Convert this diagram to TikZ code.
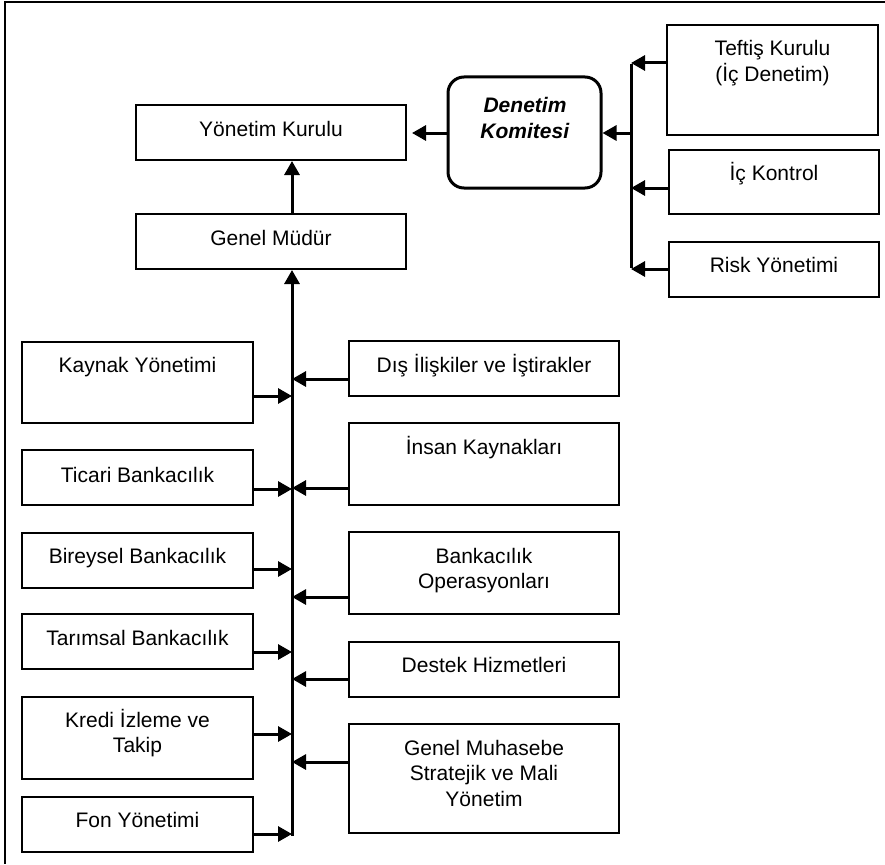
\documentclass[tikz,border=0pt]{standalone}
\usepackage{fontspec}
\setmainfont{Liberation Sans}
\usetikzlibrary{arrows.meta}
\newcommand{\mlines}[1]{\vtop{\baselineskip=25.5pt\halign{\hfil##\hfil\cr#1\crcr}}}
\begin{document}
\begin{tikzpicture}[x=1pt,y=-1pt,
  box/.style={draw,line width=2pt,inner sep=0pt,minimum width=#1},
  box/.default=270pt,
  txt/.style={anchor=base,inner sep=0pt,font=\fontsize{21}{25.5}\selectfont},
  arr/.style={line width=3pt,-{Triangle[length=14pt,width=15pt]}},
  ln/.style={line width=3pt}]
\useasboundingbox (0,0) rectangle (885,864);
% outer frame (only top and left edges visible)
\coordinate (fa) at (5,2);
\coordinate (fb) at (885,2);
\coordinate (fc) at (5,864);
\draw[line width=2.5pt] (fb) -- (fa) -- (fc);

% top part
\node[box,minimum height=55pt] (yk) at (271,132.5) {};
\node[box,minimum height=55pt] (gm) at (271,241.5) {};
\node[draw,line width=3pt,rounded corners=16pt,inner sep=0pt,minimum width=153pt,minimum height=111pt] (dk) at (524.5,132.5) {};
\node[box=211pt,minimum height=110pt] (tk) at (772.5,80) {};
\node[box=210pt,minimum height=64pt] (ic) at (774,182) {};
\node[box=210pt,minimum height=55pt] (ry) at (774,269.5) {};

\node[txt] (ykT) at (271,136) {Yönetim Kurulu};
\node[txt] (gmT) at (271,245.5) {Genel Müdür};
\node[txt] (dkT) at (525,113) {\mlines{\textbf{\textit{Denetim}}\cr\textbf{\textit{Komitesi}}}};
\node[txt] (tkT) at (772.5,56) {\mlines{Teftiş Kurulu\cr(İç Denetim)}};
\node[txt] (icT) at (774,180) {İç Kontrol};
\node[txt] (ryT) at (774,272) {Risk Yönetimi};

% left column
\node[box=231pt,minimum height=81pt] (kay) at (137.5,382.5) {};
\node[box=231pt,minimum height=55pt] (tic) at (137.5,477.5) {};
\node[box=231pt,minimum height=55pt] (bir) at (137.5,560) {};
\node[box=231pt,minimum height=55pt] (tar) at (137.5,641.5) {};
\node[box=231pt,minimum height=82pt] (kre) at (137.5,738) {};
\node[box=231pt,minimum height=55pt] (fon) at (137.5,824.5) {};

\node[txt] (kayT) at (137.5,372) {Kaynak Yönetimi};
\node[txt] (ticT) at (137.5,482) {Ticari Bankacılık};
\node[txt] (birT) at (137.5,563) {Bireysel Bankacılık};
\node[txt] (tarT) at (137.5,645) {Tarımsal Bankacılık};
\node[txt] (kreT) at (137.5,727) {\mlines{Kredi İzleme ve\cr Takip}};
\node[txt] (fonT) at (137.5,827) {Fon Yönetimi};

% right column
\node[box,minimum height=55pt] (dis) at (484,368.5) {};
\node[box,minimum height=82pt] (ins) at (484,464) {};
\node[box,minimum height=82pt] (ban) at (484,573) {};
\node[box,minimum height=55pt] (des) at (484,669.5) {};
\node[box,minimum height=109pt] (gmu) at (484,778.5) {};

\node[txt] (disT) at (484,372) {Dış İlişkiler ve İştirakler};
\node[txt] (insT) at (484,454) {İnsan Kaynakları};
\node[txt] (banT) at (484,563) {\mlines{Bankacılık\cr Operasyonları}};
\node[txt] (desT) at (484,672) {Destek Hizmetleri};
\node[txt] (gmuT) at (484,755) {\mlines{Genel Muhasebe\cr Stratejik ve Mali\cr Yönetim}};

% trunk
\coordinate (tb) at (292,835.5);
\draw[arr] (tb) -- (gm.south -| tb);
\draw[arr] (gm.north -| tb) -- (yk.south -| tb);

\coordinate (l1) at (292,396);
\coordinate (l2) at (292,489);
\coordinate (l3) at (292,569);
\coordinate (l4) at (292,652);
\coordinate (l5) at (292,734);
\coordinate (l6) at (292,834);
\draw[arr] (kay.east |- l1) -- (l1);
\draw[arr] (tic.east |- l2) -- (l2);
\draw[arr] (bir.east |- l3) -- (l3);
\draw[arr] (tar.east |- l4) -- (l4);
\draw[arr] (kre.east |- l5) -- (l5);
\draw[arr] (fon.east |- l6) -- (l6);

\coordinate (r1) at (292,379);
\coordinate (r2) at (292,488);
\coordinate (r3) at (292,597);
\coordinate (r4) at (292,679);
\coordinate (r5) at (292,762);
\draw[arr] (dis.west |- r1) -- (r1);
\draw[arr] (ins.west |- r2) -- (r2);
\draw[arr] (ban.west |- r3) -- (r3);
\draw[arr] (des.west |- r4) -- (r4);
\draw[arr] (gmu.west |- r5) -- (r5);

% bracket to Denetim Komitesi
\coordinate (b1) at (631,63);
\coordinate (b2) at (631,188);
\coordinate (b3) at (631,269);
\coordinate (bm) at (631,133);
\draw[ln] ([yshift=-1.5pt]b1) -- ([yshift=1.5pt]b3);
\draw[arr] (tk.west |- b1) -- (b1);
\draw[arr] (ic.west |- b2) -- (b2);
\draw[arr] (ry.west |- b3) -- (b3);
\draw[arr] (bm) -- (dk.east |- bm);
\draw[arr] (dk.west |- bm) -- ([xshift=5pt]yk.east |- bm);
\end{tikzpicture}
\end{document}
